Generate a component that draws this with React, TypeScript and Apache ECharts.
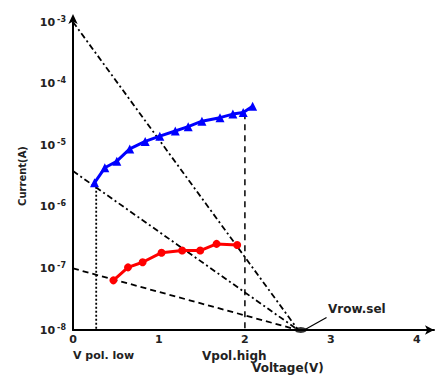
import React, { useEffect, useRef } from "react";
import * as echarts from "echarts";

// Measured curves (Voltage V, Current A)
const blueX = [0.25, 0.37, 0.51, 0.66, 0.84, 1.01, 1.19, 1.34, 1.5, 1.71, 1.86, 1.98, 2.09];
const blueY = [2.45e-6, 4.3e-6, 5.5e-6, 8.7e-6, 1.15e-5, 1.4e-5, 1.7e-5, 2.0e-5, 2.45e-5, 2.8e-5, 3.2e-5, 3.4e-5, 4.3e-5];
const redX = [0.47, 0.64, 0.81, 1.03, 1.27, 1.48, 1.67, 1.91];
const redY = [6.4e-8, 1.04e-7, 1.26e-7, 1.8e-7, 1.95e-7, 1.95e-7, 2.5e-7, 2.4e-7];

// Load lines converging at Vrow.sel
const vRowSel = 2.62;
const floorI = 1e-8;
const loadStarts = [1e-3, 3.8e-6, 1e-7];
const vPolLow = 0.27;
const vPolLowI = 2.45e-6;
const vPolHigh = 2.0;
const vPolHighI = 3.3e-5;
const pointer = [[2.95, 1.6e-8], [2.69, 1e-8]];

const xTicks = [0, 1, 2, 3, 4];
const yMin = 1e-8;
const yMax = 1e-3;

const FONT = "DejaVu Sans";

export default function App() {
  const ref = useRef<HTMLDivElement>(null);
  useEffect(() => {
    document.body.style.margin = "0";
    const chart = echarts.init(ref.current!, null, { renderer: "svg" });
    const zip = (xs: number[], ys: number[]) => xs.map((x, i) => [x, ys[i]]);
    const dashes = [
      [6, 3, 2, 3],
      [6, 3, 2, 3],
      [6, 4],
    ];
    const loadSeries = loadStarts.map((s, i) => ({
      type: "line",
      data: [[0, s], [vRowSel, floorI]],
      symbol: "none",
      lineStyle: { color: "#000", width: 1.8, type: dashes[i] },
      z: 3,
    }));
    chart.setOption({
      animation: false,
      grid: { left: 73, right: 4, top: 22, bottom: 50 },
      xAxis: {
        type: "value",
        min: 0,
        max: 4.2,
        interval: 1,
        splitLine: { show: false },
        axisTick: { show: false },
        axisLine: {
          lineStyle: { color: "#000", width: 2 },
          symbol: ["none", "arrow"],
          symbolSize: [7, 9],
        },
        axisLabel: {
          margin: 4,
          fontFamily: FONT,
          fontSize: 11,
          fontWeight: "bold",
          color: "#222",
          formatter: (v: number) => (xTicks.includes(v) ? String(v) : ""),
        },
      },
      yAxis: {
        type: "log",
        logBase: 10,
        min: yMin,
        max: yMax,
        name: "Current(A)",
        nameLocation: "middle",
        nameGap: 46,
        nameTextStyle: { fontFamily: FONT, fontSize: 10, fontWeight: "bold", color: "#222" },
        splitLine: { show: false },
        axisTick: { show: false },
        axisLine: {
          lineStyle: { color: "#000", width: 2 },
          symbol: ["none", "arrow"],
          symbolSize: [7, 10],
          symbolOffset: [0, 8],
        },
        axisLabel: {
          margin: 7,
          fontFamily: FONT,
          color: "#222",
          formatter: (v: number) => {
            const e = Math.round(Math.log10(v));
            return `{b|10}{s|-${Math.abs(e)}}`;
          },
          rich: {
            b: { fontSize: 11, fontWeight: "bold", fontFamily: FONT, color: "#222" },
            s: { fontSize: 8, fontWeight: "bold", fontFamily: FONT, color: "#222", padding: [0, 0, 6, 2] },
          },
        },
      },
      series: [
        ...loadSeries,
        {
          type: "line",
          data: [[vPolLow, vPolLowI], [vPolLow, floorI]],
          symbol: "none",
          lineStyle: { color: "#000", width: 1.8, type: [2, 2] },
          z: 3,
        },
        {
          type: "line",
          data: [[vPolHigh, vPolHighI], [vPolHigh, floorI]],
          symbol: "none",
          lineStyle: { color: "#000", width: 1.5, type: [6, 5] },
          z: 3,
        },
        {
          type: "line",
          data: zip(blueX, blueY),
          symbol: "triangle",
          symbolSize: 9,
          itemStyle: { color: "#0000ff" },
          lineStyle: { color: "#0000ff", width: 3 },
          z: 5,
        },
        {
          type: "line",
          data: zip(redX, redY),
          symbol: "circle",
          symbolSize: 8,
          itemStyle: { color: "#ff0000" },
          lineStyle: { color: "#ff0000", width: 3 },
          z: 5,
        },
        {
          type: "line",
          data: pointer,
          symbol: "none",
          lineStyle: { color: "#000", width: 1.2 },
          z: 6,
        },
        {
          type: "scatter",
          data: [[vRowSel + 0.03, floorI]],
          symbol: "circle",
          symbolSize: [12, 6],
          itemStyle: { color: "#000" },
          clip: false,
          z: 6,
        },
      ],
      graphic: [
        { type: "text", left: 73, top: 350, style: { text: "V pol. low", font: `bold 11px ${FONT}`, fill: "#222" } },
        { type: "text", left: 202, top: 350, style: { text: "Vpol.high", font: `bold 12px ${FONT}`, fill: "#222" } },
        { type: "text", left: 252, top: 362, style: { text: "Voltage(V)", font: `bold 12px ${FONT}`, fill: "#222" } },
        { type: "text", left: 328, top: 303, style: { text: "Vrow.sel", font: `bold 12px ${FONT}`, fill: "#222" } },
      ],
    });
    return () => chart.dispose();
  }, []);
  return <div ref={ref} style={{ width: 438, height: 380 }} />;
}
